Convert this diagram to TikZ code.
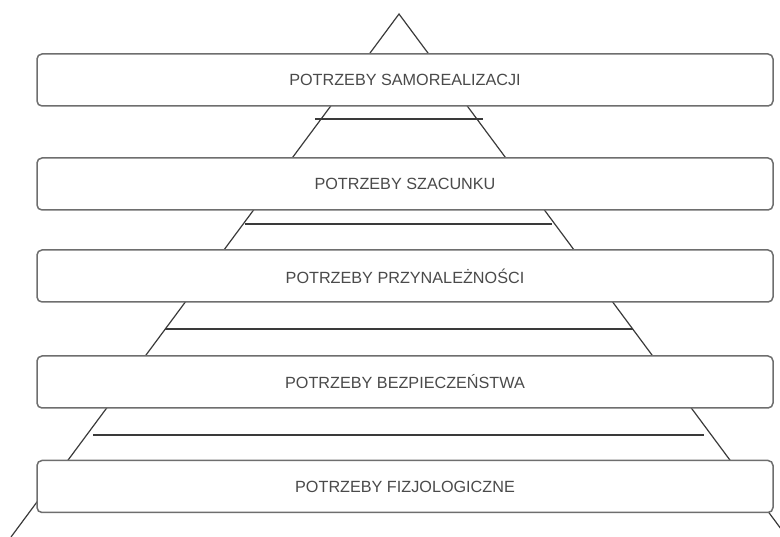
\documentclass[tikz,border=0pt]{standalone}
\usepackage{fontspec}
\setmainfont{Liberation Sans}
\definecolor{boxline}{HTML}{6E6E6E}
\definecolor{pyrline}{HTML}{3A3A3A}
\definecolor{txt}{HTML}{4A4A4A}
\tikzset{
  level/.style={draw=boxline, line width=1.5pt, fill=white, rounded corners=5pt,
    minimum width=736pt, minimum height=52pt, inner sep=0pt,
    text=txt, font=\fontsize{16.2}{18}\selectfont},
  pyr/.style={draw=pyrline, line width=1.2pt},
}
\begin{document}
\begin{tikzpicture}[x=1pt,y=-1pt]
\useasboundingbox (0,0) rectangle (780,537);
\clip (0,0) rectangle (780,537);
\coordinate (apex) at (399,14);
\coordinate (bl) at (11,537);
\coordinate (br) at (787,537);
\draw[pyr] (bl) -- (apex) -- (br);
\draw[pyr] (315,119) coordinate (h1a) -- (483,119) coordinate (h1b);
\draw[pyr] (245,224) coordinate (h2a) -- (552,224) coordinate (h2b);
\draw[pyr] (165,329) coordinate (h3a) -- (633,329) coordinate (h3b);
\draw[pyr] (93,435) coordinate (h4a) -- (704,435) coordinate (h4b);
\node[level] (b1) at (405,80) {POTRZEBY SAMOREALIZACJI};
\node[level] (b2) at (405,184) {POTRZEBY SZACUNKU};
\node[level] (b3) at (405,276) {POTRZEBY PRZYNALEŻNOŚCI};
\node[level] (b4) at (405,382) {POTRZEBY BEZPIECZEŃSTWA};
\node[level] (b5) at (405,486.5) {POTRZEBY FIZJOLOGICZNE};
\end{tikzpicture}
\end{document}
